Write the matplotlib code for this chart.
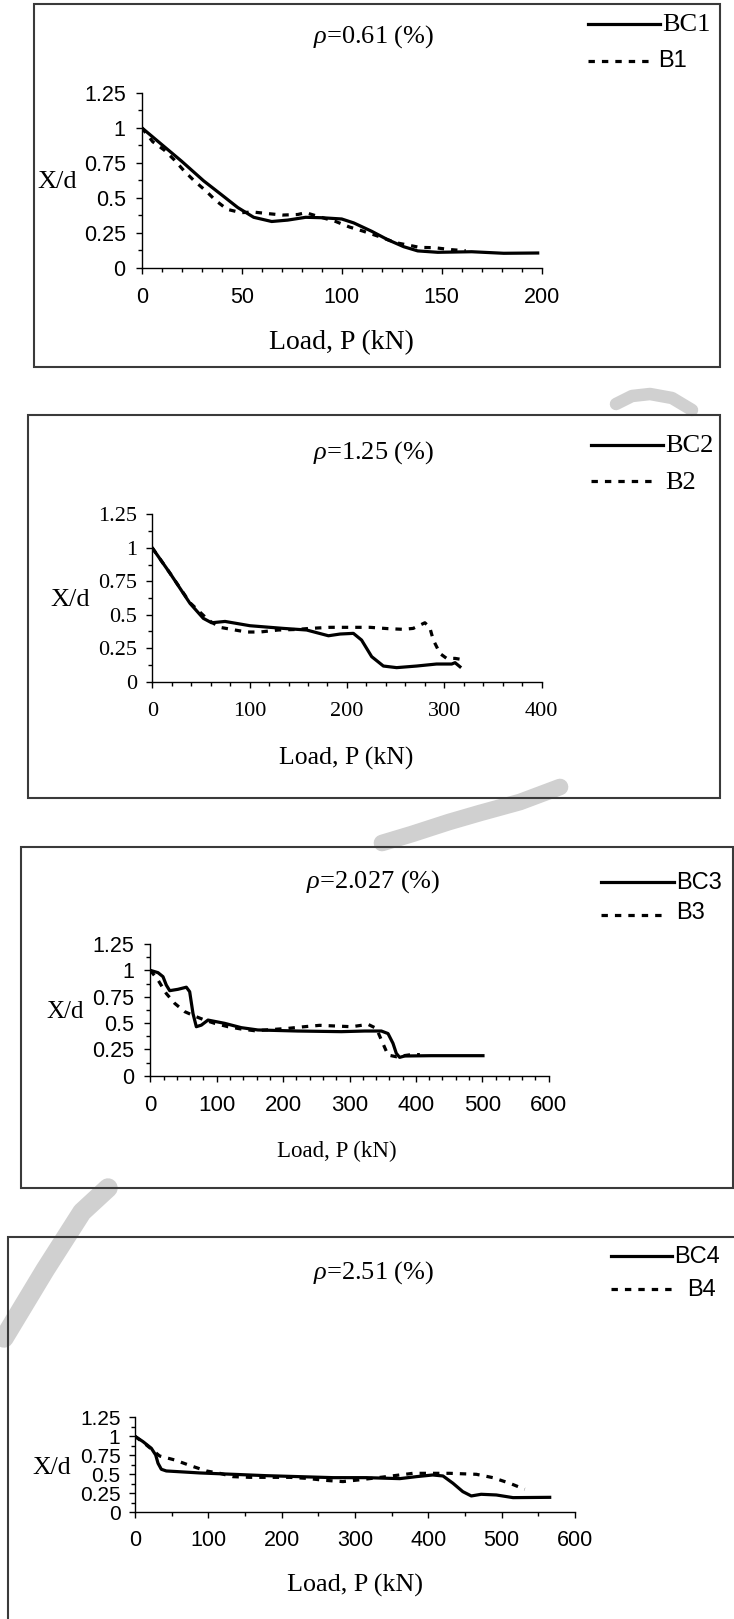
import matplotlib
matplotlib.use('Agg')
import matplotlib.pyplot as plt
from matplotlib.lines import Line2D
from matplotlib.patches import Rectangle
from matplotlib.ticker import MultipleLocator

W, H = 734, 1619
SERIF = 'Liberation Serif'
SANS = 'Liberation Sans'
LW = 2.3
DOTTED = (0, (2.0, 2.2))
GREY = '#d0d0d0'

plt.rcParams['mathtext.fontset'] = 'custom'
plt.rcParams['mathtext.rm'] = SERIF
plt.rcParams['mathtext.it'] = SERIF + ':italic'

# rho = 0.61 %
bc1_load = [0, 10, 20, 31, 40, 48, 56, 65, 73, 82, 90, 100, 106, 115, 123, 131, 138, 148, 165, 181, 198]
bc1_xd = [1.0, 0.88, 0.76, 0.62, 0.52, 0.43, 0.36, 0.33, 0.34, 0.36, 0.357, 0.348, 0.32, 0.26, 0.2, 0.15,
          0.12, 0.11, 0.114, 0.103, 0.105]
b1_load = [0, 5.5, 11.3, 16.3, 21.3, 26.3, 32, 37, 42.7, 49.7, 55.5, 62, 70.5, 78, 82, 89.7, 97, 104,
           110.5, 119, 127, 139, 146.3, 154.7, 162]
b1_xd = [1.0, 0.9, 0.84, 0.77, 0.69, 0.62, 0.55, 0.48, 0.417, 0.393, 0.398, 0.388, 0.376, 0.38, 0.393,
         0.36, 0.33, 0.29, 0.262, 0.221, 0.179, 0.145, 0.143, 0.129, 0.121]

# rho = 1.25 %
bc2_load = [0, 18.3, 38.8, 52.5, 61, 74.8, 100.4, 134.7, 158.6, 181, 193, 206.6, 215, 225.4, 237.4, 251,
            271.6, 292, 307.6, 311, 316]
bc2_xd = [1.0, 0.81, 0.585, 0.473, 0.44, 0.45, 0.418, 0.398, 0.386, 0.343, 0.356, 0.361, 0.311, 0.187,
          0.117, 0.105, 0.117, 0.132, 0.132, 0.142, 0.112]
b2_load = [0, 18.3, 38.8, 57.7, 69.6, 85, 97, 110.6, 129.5, 148, 162, 182.6, 203, 223.7, 242.5, 258, 268,
           280, 285, 288.7, 295.6, 302.4, 311, 321.3]
b2_xd = [1.0, 0.81, 0.59, 0.46, 0.406, 0.386, 0.371, 0.371, 0.386, 0.39, 0.398, 0.406, 0.406, 0.406,
         0.396, 0.391, 0.398, 0.44, 0.406, 0.311, 0.21, 0.174, 0.174, 0.162]

# rho = 2.027 %
bc3_load = [0, 11.6, 19.1, 24.1, 29.2, 41.7, 54.3, 59.3, 64.3, 69.3, 76.9, 86.9, 112, 137, 162, 222,
            287.7, 322.8, 348, 358, 365.5, 370.5, 375.5, 383, 423, 501]
bc3_xd = [1.0, 0.978, 0.94, 0.86, 0.807, 0.82, 0.84, 0.797, 0.59, 0.465, 0.48, 0.528, 0.497, 0.456,
          0.434, 0.424, 0.418, 0.424, 0.424, 0.4, 0.307, 0.212, 0.174, 0.187, 0.19, 0.19]
b3_load = [0, 11.6, 24.1, 36.7, 51.8, 66.8, 81.8, 96.9, 117, 137, 157, 187, 207, 232, 255, 278, 303, 328,
           340.5, 348, 358, 370.5, 393, 406]
b3_xd = [1.0, 0.908, 0.78, 0.687, 0.608, 0.566, 0.528, 0.497, 0.465, 0.443, 0.427, 0.44, 0.449, 0.465,
         0.478, 0.472, 0.465, 0.487, 0.449, 0.339, 0.196, 0.18, 0.2, 0.2]

# rho = 2.51 %
bc4_load = [0, 10.9, 22.3, 28.2, 31.4, 35.9, 42.7, 88, 133.6, 179, 224.5, 270, 315.5, 361, 383.6, 406,
            420, 433.6, 447, 458.6, 472, 492.7, 515.5, 565.5]
bc4_xd = [1.0, 0.93, 0.842, 0.754, 0.645, 0.566, 0.544, 0.518, 0.5, 0.482, 0.469, 0.456, 0.456, 0.443,
          0.469, 0.491, 0.478, 0.382, 0.272, 0.215, 0.237, 0.228, 0.193, 0.197]
b4_load = [0, 15.5, 33.6, 54, 76.8, 97.3, 115.5, 133.6, 156.4, 183.6, 211, 233.6, 258.6, 283.6, 304,
           342.7, 379, 406, 429, 465.5, 488, 511, 531.4]
b4_xd = [1.0, 0.886, 0.741, 0.689, 0.61, 0.544, 0.513, 0.469, 0.46, 0.46, 0.46, 0.447, 0.421, 0.404,
         0.425, 0.469, 0.513, 0.513, 0.513, 0.5, 0.456, 0.382, 0.303]


def fx(x):
    return x / W


def fy(y):
    return 1 - y / H


def add_box(fig, x0, y0, x1, y1):
    fig.add_artist(Rectangle((fx(x0), fy(y1)), (x1 - x0) / W, (y1 - y0) / H, fill=False,
                             edgecolor='#3a3a3a', lw=1.5, transform=fig.transFigure))


def add_stroke(fig, xs, ys, width):
    # faint background watermark strokes
    fig.add_artist(Line2D([fx(x) for x in xs], [fy(y) for y in ys], color=GREY, lw=width,
                          solid_capstyle='round', transform=fig.transFigure, zorder=0))


def add_legend_row(fig, x0, x1, y, style, label, lx, ly, family, size):
    fig.add_artist(Line2D([fx(x0), fx(x1)], [fy(y), fy(y)], color='black', lw=LW, linestyle=style,
                          transform=fig.transFigure))
    fig.text(fx(lx), fy(ly), label, family=family, size=size, ha='left', va='center')


def make_axes(fig, x0, y_top, x1, y_bot, xmax, xmajor, xminor, family, xsize, ysize, xpad, ypad):
    ax = fig.add_axes([fx(x0), fy(y_bot), (x1 - x0) / W, (y_bot - y_top) / H])
    ax.set_xlim(0, xmax)
    ax.set_ylim(0, 1.25)
    ax.patch.set_alpha(0)
    for side in ['top', 'right']:
        ax.spines[side].set_visible(False)
    for side in ['left', 'bottom']:
        ax.spines[side].set_linewidth(1.0)
    ax.xaxis.set_major_locator(MultipleLocator(xmajor))
    ax.xaxis.set_minor_locator(MultipleLocator(xminor))
    ax.yaxis.set_minor_locator(MultipleLocator(0.125))
    ax.set_yticks([0, 0.25, 0.5, 0.75, 1, 1.25])
    ax.set_yticklabels(['0', '0.25', '0.5', '0.75', '1', '1.25'])
    ax.tick_params(which='major', direction='out', length=4.5, width=1.0)
    ax.tick_params(which='minor', direction='out', length=2.8, width=1.0)
    ax.tick_params(axis='x', pad=xpad, labelsize=xsize)
    ax.tick_params(axis='y', pad=ypad, labelsize=ysize)
    for lab in ax.get_xticklabels() + ax.get_yticklabels():
        lab.set_family(family)
    return ax


fig = plt.figure(figsize=(W / 100, H / 100), dpi=100)

# watermark remains
add_stroke(fig, [616, 632, 650, 672, 692], [404, 396, 394, 398, 410], 9)
add_stroke(fig, [382, 412, 449, 480, 520, 560], [843, 834, 822, 813, 802, 787], 12)
add_stroke(fig, [108, 82, 45, 4], [1188, 1212, 1270, 1338], 14)

# ---- panel 1
add_box(fig, 34, 4, 720, 367)
ax1 = make_axes(fig, 141.7, 92.7, 541.7, 267.7, 200, 50, 10, SANS, 15.5, 15.5, 9.5, 7)
ax1.plot(bc1_load, bc1_xd, color='black', lw=LW)
ax1.plot(b1_load, b1_xd, color='black', lw=LW, linestyle=DOTTED)
fig.text(fx(373.4), fy(36.7), r'$\rho$=0.61 (%)', family=SERIF, size=19, ha='center', va='center')
fig.text(fx(37), fy(181.7), 'X/d', family=SERIF, size=19, ha='left', va='center')
fig.text(fx(341.5), fy(342.5), 'Load, P (kN)', family=SERIF, size=20, ha='center', va='center')
add_legend_row(fig, 588, 660, 24, '-', 'BC1', 662, 25, SERIF, 19)
add_legend_row(fig, 588, 650, 60.7, DOTTED, 'B1', 658, 61, SANS, 17)

# ---- panel 2
add_box(fig, 28, 415, 720, 797.7)
ax2 = make_axes(fig, 152.2, 514.3, 541.7, 681.7, 400, 100, 20, SERIF, 16, 16, 10, 6.5)
ax2.plot(bc2_load, bc2_xd, color='black', lw=LW)
ax2.plot(b2_load, b2_xd, color='black', lw=LW, linestyle=DOTTED)
fig.text(fx(373.6), fy(452.7), r'$\rho$=1.25 (%)', family=SERIF, size=19, ha='center', va='center')
fig.text(fx(50.6), fy(600), 'X/d', family=SERIF, size=19, ha='left', va='center')
fig.text(fx(346.4), fy(758.3), 'Load, P (kN)', family=SERIF, size=18.5, ha='center', va='center')
add_legend_row(fig, 591, 662.5, 445, '-', 'BC2', 665, 446, SERIF, 19)
add_legend_row(fig, 591, 655, 480.7, DOTTED, 'B2', 665, 483, SERIF, 19)

# ---- panel 3
add_box(fig, 21, 847.3, 732.7, 1187.7)
ax3 = make_axes(fig, 150.3, 944, 548.7, 1075.7, 600, 100, 20, SANS, 16, 15.5, 9.5, 7)
ax3.plot(bc3_load, bc3_xd, color='black', lw=LW)
ax3.plot(b3_load, b3_xd, color='black', lw=LW, linestyle=DOTTED)
fig.text(fx(373.3), fy(881.7), r'$\rho$=2.027 (%)', family=SERIF, size=19, ha='center', va='center')
fig.text(fx(46.8), fy(1011.7), 'X/d', family=SERIF, size=18, ha='left', va='center')
fig.text(fx(336.6), fy(1151), 'Load, P (kN)', family=SERIF, size=16.5, ha='center', va='center')
add_legend_row(fig, 600.7, 674, 882.3, '-', 'BC3', 676.5, 883, SANS, 17)
add_legend_row(fig, 600.7, 665, 915, DOTTED, 'B3', 676.5, 913, SANS, 17)

# ---- panel 4
add_box(fig, 8.4, 1237.3, 740, 1630)
ax4 = make_axes(fig, 135, 1417.3, 575, 1512.3, 600, 100, 50, SANS, 15.5, 15, 8.5, 6)
ax4.plot(bc4_load, bc4_xd, color='black', lw=LW)
ax4.plot(b4_load, b4_xd, color='black', lw=LW, linestyle=DOTTED)
fig.text(fx(373.6), fy(1273), r'$\rho$=2.51 (%)', family=SERIF, size=19, ha='center', va='center')
fig.text(fx(32), fy(1468), 'X/d', family=SERIF, size=18.5, ha='left', va='center')
fig.text(fx(355), fy(1585), 'Load, P (kN)', family=SERIF, size=18.8, ha='center', va='center')
add_legend_row(fig, 611, 672, 1255.7, '-', 'BC4', 674, 1257, SANS, 17)
add_legend_row(fig, 611, 674, 1289, DOTTED, 'B4', 687, 1290, SANS, 17)

fig.savefig('out.png', dpi=100)
